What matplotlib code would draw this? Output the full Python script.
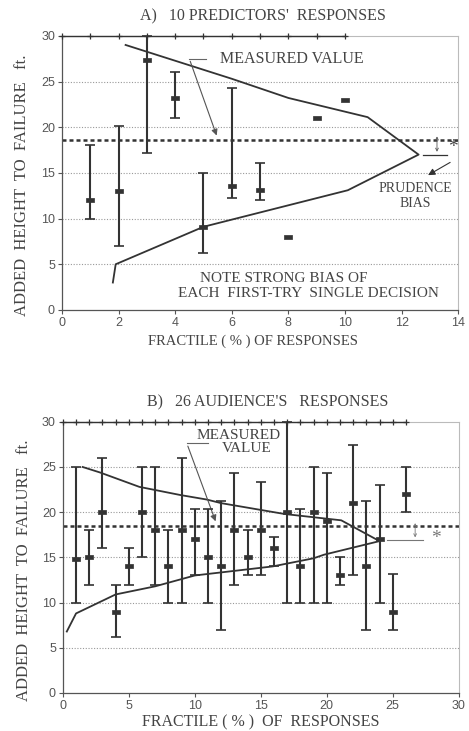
import numpy as np
import matplotlib
matplotlib.use("Agg")
import matplotlib.pyplot as plt

# --- panel A: 10 predictors ---
xa = [1, 2, 3, 4, 5, 6, 7, 8, 9, 10]
mid_a = [12, 13, 27.3, 23.2, 9.1, 13.6, 13.1, 8, 21, 23]
lo_a = [10, 7, 17.2, 21, 6.2, 12.2, 12, 8, 21, 23]
hi_a = [18, 20.1, 30, 26, 15, 24.3, 16.1, 8, 21, 23]

env_a_up_x = [2.25, 6.0, 8.0, 10.8, 12.6]
env_a_up_y = [29.0, 25.3, 23.2, 21.1, 17.0]
env_a_lo_x = [12.6, 10.1, 5.0, 1.9, 1.8]
env_a_lo_y = [17.0, 13.1, 9.1, 5.0, 3.0]
measured_a = 18.6

# --- panel B: 26 audience ---
xb = list(range(1, 27))
mid_b = [14.8, 15, 20, 9, 14, 20, 18, 14, 18, 17, 15, 14, 18, 15, 18, 16,
         20, 14, 20, 19, 13, 21, 14, 17, 9, 22]
lo_b = [10, 12, 16, 6.2, 12, 15, 12, 10, 10, 13.1, 10, 7, 12, 13.1, 13.1, 14.1,
        10, 10, 10, 10, 12, 13.1, 7, 10, 7, 20]
hi_b = [25, 18, 26, 12, 16, 25, 25, 18, 26, 20.3, 20.3, 21.2, 24.3, 18, 23.3, 17.2,
        30, 20.3, 25, 24.3, 15, 27.4, 21.2, 23, 13.2, 25]

env_b_up_x = [1.5, 2.8, 5.8, 8.9, 10.9, 12.0, 16.8, 21.1, 24.0]
env_b_up_y = [25.0, 24.4, 22.8, 21.9, 21.4, 21.0, 19.8, 19.1, 16.8]
env_b_lo_x = [24.0, 19.8, 19.0, 15.9, 10.0, 7.0, 4.0, 1.0, 0.3]
env_b_lo_y = [16.8, 15.3, 14.9, 14.0, 13.0, 11.8, 10.9, 8.8, 6.8]
measured_b = 18.5

serif = "Liberation Serif"
sans = "Liberation Sans"
ink = "#333333"
txt = "#444444"
# wide flat marker like the original plotted bar centres
flat = [(-1, -0.55), (1, -0.55), (1, 0.55), (-1, 0.55), (-1, -0.55)]

fig = plt.figure(figsize=(4.69, 7.31), dpi=100)
ax1 = fig.add_axes([0.132, 0.576, 0.845, 0.375])
ax2 = fig.add_axes([0.134, 0.052, 0.844, 0.371])


def base(ax, xmax, xstep, xs, mid, lo, hi, ux, uy, lx, ly, meas):
    ax.set_xlim(0, xmax)
    ax.set_ylim(0, 30)
    ax.set_xticks(np.arange(0, xmax + 1, xstep))
    ax.set_yticks(np.arange(0, 31, 5))
    for s in ["top", "right"]:
        ax.spines[s].set_color("#bbbbbb")
        ax.spines[s].set_linewidth(0.8)
    for s in ["left", "bottom"]:
        ax.spines[s].set_color("#555555")
        ax.spines[s].set_linewidth(0.9)
    ax.tick_params(direction="out", length=3, width=0.8, color="#555555",
                   labelsize=9, labelcolor="#555555", pad=2)
    for lab in ax.get_xticklabels() + ax.get_yticklabels():
        lab.set_family(sans)
    for g in [5, 10, 15, 20, 25]:
        ax.axhline(g, color="#999999", lw=0.8, ls=(0, (1, 1.5)), zorder=0)

    # dark top segment with small markers
    tx = [0] + list(xs)
    ax.plot(tx, [30] * len(tx), color=ink, lw=1.0, marker="+", ms=4,
            mew=0.9, clip_on=False, zorder=3)

    # envelope
    ax.plot(list(ux) + list(lx), list(uy) + list(ly), color=ink, lw=1.3, zorder=2)

    # measured value line
    ax.axhline(meas, color=ink, lw=1.8, ls=(0, (1.6, 1.2)), zorder=2)

    # error bars
    mid = np.array(mid, float)
    lo = np.array(lo, float)
    hi = np.array(hi, float)
    xs = np.array(xs, float)
    has = hi > lo
    ax.errorbar(xs[has], mid[has], yerr=[mid[has] - lo[has], hi[has] - mid[has]],
                fmt="none", ecolor=ink, elinewidth=1.5, capsize=3.5, capthick=1.2,
                zorder=4, clip_on=False)
    ax.plot(xs, mid, ls="none", marker=flat, ms=5.5, color=ink, mec=ink,
            mew=0.5, zorder=5)


base(ax1, 14, 2, xa, mid_a, lo_a, hi_a, env_a_up_x, env_a_up_y,
     env_a_lo_x, env_a_lo_y, measured_a)
base(ax2, 30, 5, xb, mid_b, lo_b, hi_b, env_b_up_x, env_b_up_y,
     env_b_lo_x, env_b_lo_y, measured_b)

# --- annotations, panel A ---
ax1.text(5.6, 27.5, "MEASURED VALUE", family=serif, fontsize=11.5, color=txt,
         ha="left", va="center")
ax1.plot([4.5, 5.1], [27.5, 27.5], color="#666666", lw=0.8)
ax1.annotate("", xy=(5.5, 18.8), xytext=(4.5, 27.5),
             arrowprops=dict(arrowstyle="-|>", color="#555555", lw=0.8,
                             mutation_scale=9))
ax1.plot([12.75, 13.6], [17.0, 17.0], color=ink, lw=0.9)
ax1.annotate("", xy=(13.25, 17.0), xytext=(13.25, 19.3),
             arrowprops=dict(arrowstyle="<->", color="#555555", lw=0.6,
                             mutation_scale=5))
ax1.text(13.8, 17.8, "*", family=serif, fontsize=14, color=txt,
         ha="center", va="center")
ax1.text(12.5, 12.5, "PRUDENCE\nBIAS", family=serif, fontsize=10, color=txt,
         ha="center", va="center", linespacing=1.2)
ax1.annotate("", xy=(12.85, 14.6), xytext=(13.8, 16.3),
             arrowprops=dict(arrowstyle="-|>", color=ink, lw=0.8,
                             mutation_scale=10))
ax1.text(7.85, 3.4, "NOTE STRONG BIAS OF", family=serif, fontsize=11,
         color=txt, ha="center", va="center")
ax1.text(8.7, 1.75, "EACH  FIRST-TRY  SINGLE DECISION", family=serif,
         fontsize=11, color=txt, ha="center", va="center")

# --- annotations, panel B ---
ax2.text(13.3, 28.5, "MEASURED", family=serif, fontsize=11, color=txt,
         ha="center", va="center")
ax2.text(13.9, 27.0, "VALUE", family=serif, fontsize=11, color=txt,
         ha="center", va="center")
ax2.plot([9.4, 11.0], [27.6, 27.6], color="#666666", lw=0.8)
ax2.annotate("", xy=(11.65, 18.7), xytext=(9.4, 27.6),
             arrowprops=dict(arrowstyle="-|>", color="#555555", lw=0.8,
                             mutation_scale=9))
ax2.plot([24.6, 27.3], [16.9, 16.9], color="#777777", lw=0.8)
ax2.annotate("", xy=(26.7, 16.9), xytext=(26.7, 19.1),
             arrowprops=dict(arrowstyle="<->", color="#777777", lw=0.6,
                             mutation_scale=5))
ax2.text(28.3, 17.1, "*", family=serif, fontsize=14, color="#777777",
         ha="center", va="center")

# --- titles and axis labels ---
fig.text(0.561, 0.978, "A)   10 PREDICTORS'  RESPONSES", family=serif,
         fontsize=11.5, color=txt, ha="center", va="center")
fig.text(0.570, 0.450, "B)   26 AUDIENCE'S   RESPONSES", family=serif,
         fontsize=11.5, color=txt, ha="center", va="center")
fig.text(0.047, 0.746, "ADDED  HEIGHT  TO  FAILURE   ft.", family=serif,
         fontsize=12, color=txt, rotation=90, ha="center", va="center")
fig.text(0.051, 0.220, "ADDED  HEIGHT  TO  FAILURE   ft.", family=serif,
         fontsize=12, color=txt, rotation=90, ha="center", va="center")
fig.text(0.54, 0.5335, "FRACTILE ( % ) OF RESPONSES", family=serif,
         fontsize=10.5, color=txt, ha="center", va="center")
fig.text(0.555, 0.012, "FRACTILE ( % )  OF  RESPONSES", family=serif,
         fontsize=11.5, color=txt, ha="center", va="center")

fig.savefig("out.png", dpi=100)
